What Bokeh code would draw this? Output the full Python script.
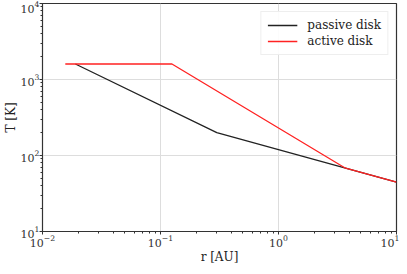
from bokeh.plotting import figure
from bokeh.models import Legend, LegendItem, LogTicker
from bokeh.embed import file_html
from bokeh.resources import INLINE

# data
passive_r = [0.019, 0.3, 3.7, 10.0]
passive_T = [1600, 200, 68, 44.5]
active_r = [0.0156, 0.125, 3.7, 10.0]
active_T = [1600, 1600, 68, 44.5]

FONT = "DejaVu Serif"

p = figure(width=399, height=266, x_axis_type="log", y_axis_type="log",
           x_range=(1e-2, 1e1), y_range=(1e1, 1e4),
           output_backend="svg", toolbar_location=None,
           min_border_left=28, min_border_right=3, min_border_top=3,
           min_border_bottom=20)

p.background_fill_color = "white"
p.border_fill_color = "white"
p.outline_line_color = "#333333"
p.outline_line_width = 1.2

for ax in (p.xaxis[0], p.yaxis[0]):
    ax.ticker = LogTicker(desired_num_ticks=4, num_minor_ticks=10)
    ax.axis_line_color = "#333333"
    ax.major_tick_line_color = "#333333"
    ax.minor_tick_line_color = "#333333"
    ax.major_tick_out = 3
    ax.major_tick_in = 0
    ax.minor_tick_out = 2
    ax.minor_tick_in = 0
    ax.major_label_text_font = FONT
    ax.major_label_text_font_size = "11px"
    ax.major_label_text_color = "#333333"
    ax.axis_label_text_font = FONT
    ax.axis_label_text_font_size = "12px"
    ax.axis_label_text_font_style = "normal"
    ax.axis_label_text_color = "#222222"
    ax.major_label_standoff = 0
    ax.axis_label_standoff = 0

p.xaxis.axis_label = "r [AU]"
p.yaxis.axis_label = "T [K]"

p.grid.grid_line_color = "#dddddd"
p.grid.grid_line_width = 1
p.grid.minor_grid_line_color = None

r1 = p.line(passive_r, passive_T, line_color="#222222", line_width=1.3)
r2 = p.line(active_r, active_T, line_color="#ff2222", line_width=1.3)

legend = Legend(items=[LegendItem(label="passive disk", renderers=[r1]),
                       LegendItem(label="active disk", renderers=[r2])],
                location="top_right")
legend.label_text_font = FONT
legend.label_text_font_size = "12px"
legend.label_text_color = "#222222"
legend.border_line_color = "#dddddd"
legend.border_line_width = 1
legend.background_fill_alpha = 0.9
legend.glyph_width = 30
legend.glyph_height = 14
legend.label_standoff = 10
legend.spacing = 2
legend.padding = 6
legend.margin = 8
p.add_layout(legend)

open("out.html", "w").write(file_html(p, INLINE))
